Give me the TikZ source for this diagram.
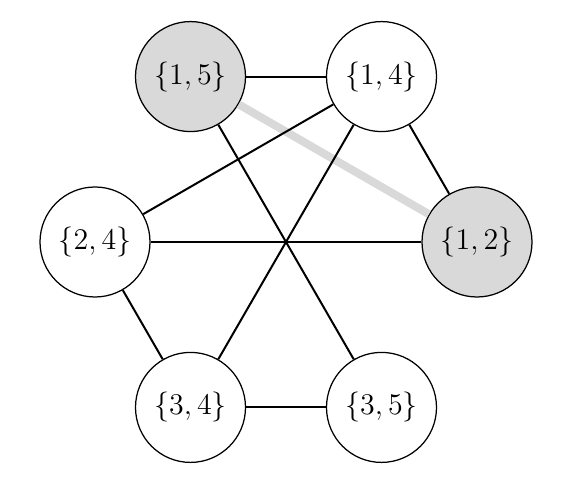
\documentclass[tikz,border=0pt]{standalone}
\usepackage{tikz}
\usetikzlibrary{positioning}

\begin{document}
\begin{tikzpicture}[
    vertex/.style={circle, draw, line width=0.5pt, fill=white, minimum size=44pt, inner sep=0pt, font=\fontsize{12}{14}\selectfont},
    marked/.style={vertex, fill=black!15},
    edge/.style={line width=0.8pt},
    hilite/.style={line width=3.2pt, black!15}
]
\useasboundingbox (-114.4pt,-97.6pt) rectangle (115.2pt,96.8pt);

\node[marked] (v12) at (0:76.4pt) {$\{1,2\}$};
\node[vertex] (v14) at (60:76.4pt) {$\{1,4\}$};
\node[marked] (v15) at (120:76.4pt) {$\{1,5\}$};
\node[vertex] (v24) at (180:76.4pt) {$\{2,4\}$};
\node[vertex] (v34) at (240:76.4pt) {$\{3,4\}$};
\node[vertex] (v35) at (300:76.4pt) {$\{3,5\}$};

\draw[hilite] (v15) -- (v12);
\draw[edge] (v15) -- (v14);
\draw[edge] (v15) -- (v35);
\draw[edge] (v14) -- (v24);
\draw[edge] (v14) -- (v12);
\draw[edge] (v14) -- (v34);
\draw[edge] (v24) -- (v12);
\draw[edge] (v24) -- (v34);
\draw[edge] (v34) -- (v35);

\end{tikzpicture}
\end{document}
